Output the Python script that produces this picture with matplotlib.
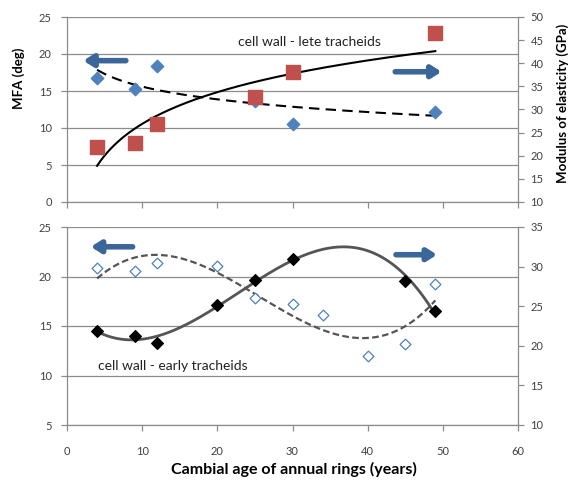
import numpy as np
import matplotlib
matplotlib.use("Agg")
import matplotlib.pyplot as plt

plt.rcParams['font.family'] = ['Lato', 'DejaVu Sans']

# ---- data: top panel (late tracheids) ----
top_mfa_x = [4, 9, 12, 25, 30, 49]
top_mfa_y = [16.8, 15.3, 18.4, 13.6, 10.5, 12.1]
top_moe_x = [4, 9, 12, 25, 30, 49]
top_moe_y = [21.8, 22.7, 26.8, 32.7, 38.2, 46.5]

# ---- data: bottom panel (early tracheids) ----
bot_mfa_x = [4, 9, 12, 20, 25, 30, 34, 40, 45, 49]
bot_mfa_y = [20.9, 20.6, 21.4, 21.1, 17.8, 17.2, 16.1, 12.0, 13.2, 19.2]
bot_moe_x = [4, 9, 12, 20, 25, 30, 45, 49]
bot_moe_y = [21.9, 21.2, 20.3, 25.1, 28.3, 31.0, 28.2, 24.4]

x_ticks = [0, 10, 20, 30, 40, 50, 60]
top_left_ticks = [0, 5, 10, 15, 20, 25]
top_right_ticks = [10, 15, 20, 25, 30, 35, 40, 45, 50]
bot_left_ticks = [5, 10, 15, 20, 25]
bot_right_ticks = [10, 15, 20, 25, 30, 35]

top_label = "cell wall - lete tracheids"
bot_label = "cell wall - early tracheids"
xlabel = "Cambial age of annual rings (years)"
ylabel_left = "MFA (deg)"
ylabel_right = "Modulus of elasticity (GPa)"

BLUE = "#4F81BD"
RED = "#C0504D"
ARROW = "#3A6699"
GRID = "#8C8C8C"
SPINE = "#8C8C8C"
TICKTXT = "#404040"

fig = plt.figure(figsize=(5.73, 4.83), dpi=100)
L, R = 67/573, 518/573
ax1 = fig.add_axes([L, 1-202/483, R-L, (202-17)/483])
ax2 = fig.add_axes([L, 1-425/483, R-L, (425-227)/483])


def style(ax, axr, lt, rt):
    ax.set_xlim(0, 60)
    ax.set_ylim(lt[0], lt[-1])
    axr.set_ylim(rt[0], rt[-1])
    ax.set_xticks(x_ticks)
    ax.set_yticks(lt)
    axr.set_yticks(rt)
    ax.yaxis.grid(True, color=GRID, lw=0.9)
    ax.set_axisbelow(True)
    for a in (ax, axr):
        for s in a.spines.values():
            s.set_color(SPINE)
            s.set_linewidth(0.9)
        a.spines['top'].set_visible(False)
        a.tick_params(colors=SPINE, labelcolor=TICKTXT, labelsize=8,
                      length=4, width=0.9, direction='out')
    ax.tick_params(axis='y', pad=7)
    ax.tick_params(axis='x', pad=11)
    axr.tick_params(axis='y', pad=5)
    ax.spines['right'].set_visible(False)
    axr.spines['left'].set_visible(False)
    axr.spines['bottom'].set_visible(False)


arrow_kw = dict(arrowstyle="-|>,head_length=0.55,head_width=0.35", color=ARROW, lw=4)

# ---- top panel ----
ax1r = ax1.twinx()
style(ax1, ax1r, top_left_ticks, top_right_ticks)
ax1.tick_params(axis='x', labelbottom=False)

xs = np.linspace(4, 49, 200)
b, a = np.polyfit(np.log(top_moe_x), top_moe_y, 1)
ax1r.plot(xs, a + b*np.log(xs), color='black', lw=1.5, zorder=2)
b2, a2 = np.polyfit(np.log(top_mfa_x), top_mfa_y, 1)
ax1.plot(xs, a2 + b2*np.log(xs), color='black', lw=1.5, ls=(0, (5, 3)), zorder=2)
ax1.scatter(top_mfa_x, top_mfa_y, marker='D', s=40, color=BLUE, zorder=3)
ax1r.scatter(top_moe_x, top_moe_y, marker='s', s=90, color=RED, zorder=3)
ax1.text(32.2, 21.6, top_label, ha='center', va='center', fontsize=10, color='#222222')
ax1.annotate("", xy=(1.8, 19.1), xytext=(8.2, 19.1), arrowprops=arrow_kw)
ax1.annotate("", xy=(50.2, 17.6), xytext=(43.3, 17.6), arrowprops=arrow_kw)

# ---- bottom panel ----
ax2r = ax2.twinx()
style(ax2, ax2r, bot_left_ticks, bot_right_ticks)
xs2 = np.linspace(4, 49, 200)
p_moe = np.polyfit(bot_moe_x, bot_moe_y, 3)
ax2r.plot(xs2, np.polyval(p_moe, xs2), color='#555555', lw=2.0, zorder=2)
p_mfa = np.polyfit(bot_mfa_x, bot_mfa_y, 3)
ax2.plot(xs2, np.polyval(p_mfa, xs2), color='#555555', lw=1.6, ls=(0, (3, 1.5)), zorder=2)
ax2.scatter(bot_mfa_x, bot_mfa_y, marker='D', s=30, facecolor='white',
            edgecolor=BLUE, linewidth=0.9, zorder=3)
ax2r.scatter(bot_moe_x, bot_moe_y, marker='D', s=35, color='black', zorder=3)
ax2.text(14.1, 11.0, bot_label, ha='center', va='center', fontsize=10, color='#222222')
ax2.annotate("", xy=(2.8, 23.0), xytext=(9.1, 23.0), arrowprops=arrow_kw)
ax2.annotate("", xy=(49.6, 22.2), xytext=(43.4, 22.2), arrowprops=arrow_kw)

fig.text(294/573, 1-469/483, xlabel, ha='center', va='center',
         fontsize=11.5, fontweight='bold')
fig.text(19/573, 1-78/483, ylabel_left, rotation=90, ha='center', va='center',
         fontsize=9.5, fontweight='bold')
fig.text(563/573, 1-103/483, ylabel_right, rotation=90, ha='center', va='center',
         fontsize=9.5, fontweight='bold')

fig.savefig("out.png", dpi=100)
